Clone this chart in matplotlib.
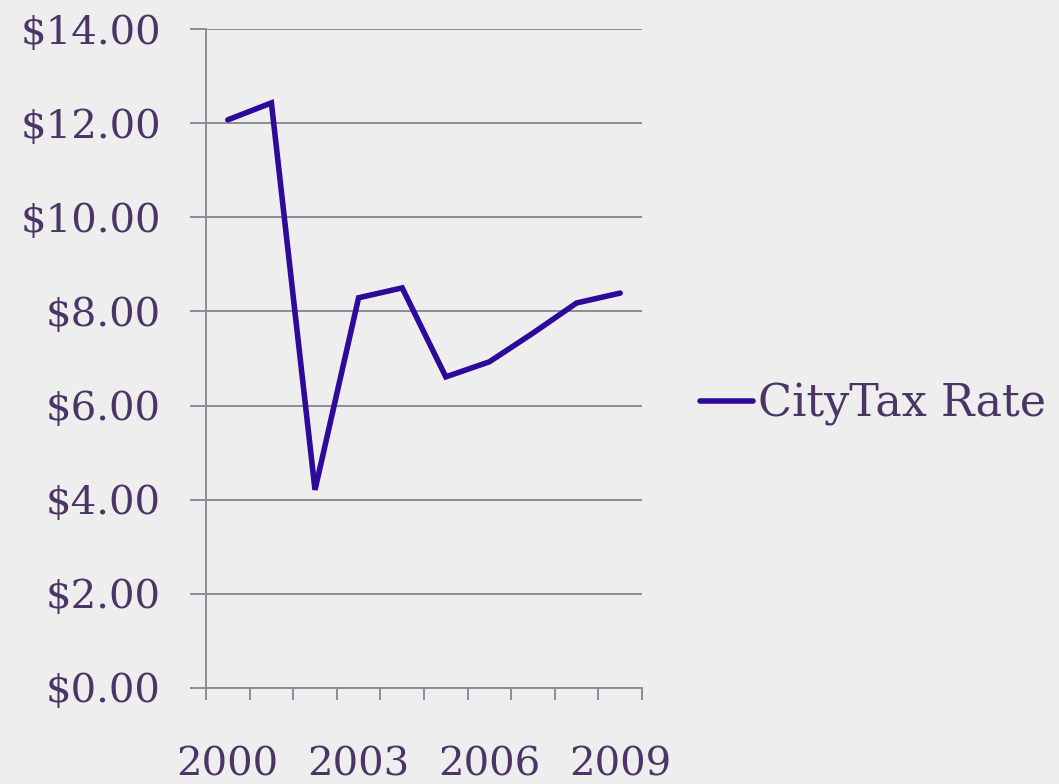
import matplotlib
matplotlib.use("Agg")
import matplotlib.pyplot as plt
from matplotlib.ticker import FixedLocator, FuncFormatter

years = [2000, 2001, 2002, 2003, 2004, 2005, 2006, 2007, 2008, 2009]
tax_rate = [12.07, 12.43, 4.21, 8.29, 8.50, 6.61, 6.93, 7.54, 8.18, 8.39]
series_name = "CityTax Rate"
label_years = [2000, 2003, 2006, 2009]

text_color = "#4a3566"
line_color = "#2e0a98"
grid_color = "#8d8b97"
bg_color = "#eeeeee"

plt.rcParams['font.family'] = ['DejaVu Serif']

fig = plt.figure(figsize=(10.59, 7.84), dpi=100, facecolor=bg_color)
ax = fig.add_axes([206/1059, 1 - 688/784, (642-206)/1059, (688-29)/784])
ax.set_facecolor("none")

x = list(range(len(years)))
ax.plot(x, tax_rate, color=line_color, lw=4.0, solid_joinstyle='miter',
        solid_capstyle='round', label=series_name, zorder=3)

ax.set_xlim(-0.5, len(years) - 0.5)
ax.set_ylim(0, 14)

# y axis
ax.set_yticks([0, 2, 4, 6, 8, 10, 12, 14])
ax.yaxis.set_major_formatter(FuncFormatter(lambda v, p: f"${v:.2f}"))
ax.tick_params(axis='y', length=11.5, width=1.4, color=grid_color, pad=21,
               labelsize=29, labelcolor=text_color)
ax.grid(axis='y', color=grid_color, lw=1.4, zorder=1)

# x axis: tick marks between categories, labels at selected years
ax.xaxis.set_major_locator(FixedLocator([years.index(y) for y in label_years]))
ax.set_xticklabels([str(y) for y in label_years])
ax.tick_params(axis='x', which='major', length=0, pad=42, labelsize=29,
               labelcolor=text_color)
ax.xaxis.set_minor_locator(FixedLocator([i - 0.5 for i in range(len(years) + 1)]))
ax.tick_params(axis='x', which='minor', length=8.6, width=1.4, color=grid_color)

for s in ['top', 'right']:
    ax.spines[s].set_visible(False)
for s in ['left', 'bottom']:
    ax.spines[s].set_color(grid_color)
    ax.spines[s].set_linewidth(1.4)

leg = fig.legend(loc='center left', bbox_to_anchor=(700/1059, 1 - 404/784),
                 frameon=False, fontsize=32, handlelength=1.2,
                 handletextpad=0.1, borderpad=0, borderaxespad=0)
for t in leg.get_texts():
    t.set_color(text_color)

fig.savefig("out.png", dpi=100, facecolor=bg_color)
